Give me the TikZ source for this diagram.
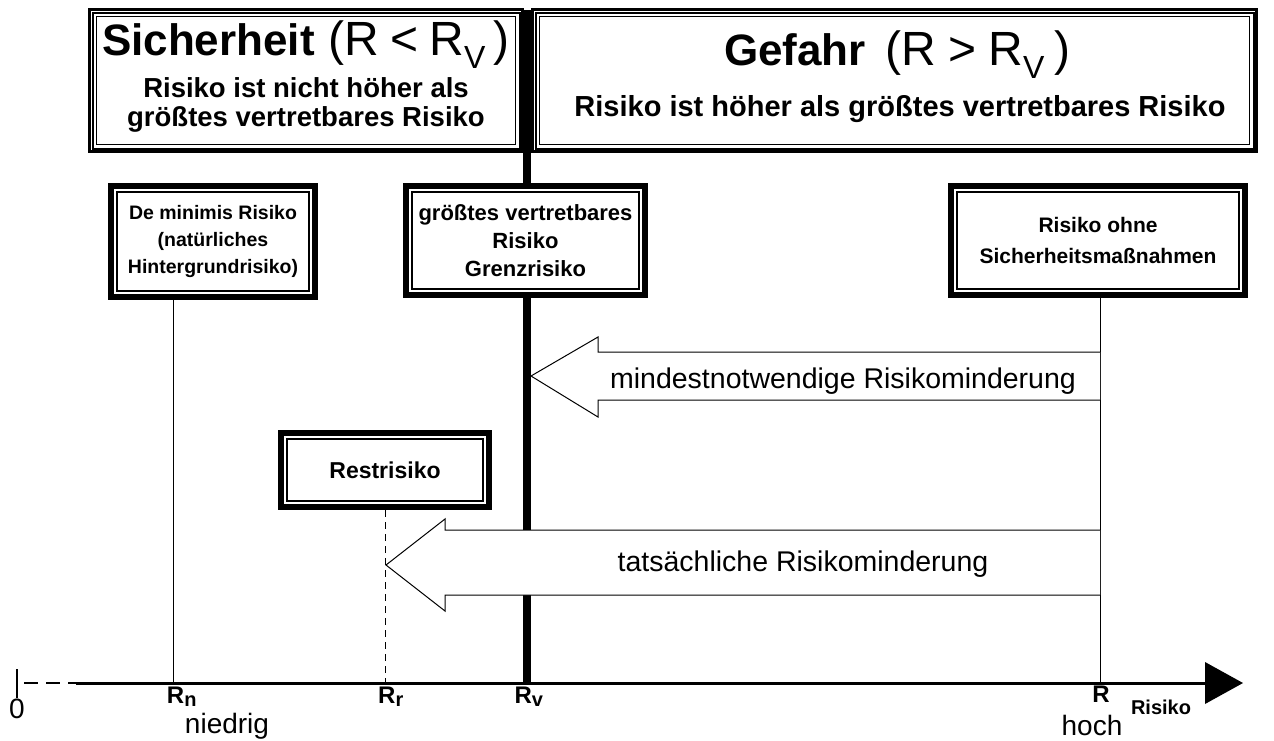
\documentclass[tikz,border=0pt]{standalone}
\usepackage{fontspec}
\setmainfont{Liberation Sans}
\begin{document}
\begin{tikzpicture}[x=1pt,y=-1pt,
  tbox/.style={draw, line width=3pt, fill=white, inner sep=0pt},
  tin1/.style={line width=2pt},
  tin2/.style={line width=1pt},
  lbox/.style={draw, line width=6pt, fill=white, inner sep=0pt, align=center,
    font=\bfseries\fontsize{21}{27}\selectfont},
  lin/.style={line width=1.3pt},
  vline/.style={line width=1pt},
  blockarrow/.style={line width=1pt, fill=white, line join=miter},
  axlbl/.style={font=\bfseries\fontsize{24}{24}\selectfont, anchor=base},
  plain/.style={font=\fontsize{28}{28}\selectfont, anchor=base},
  arrtxt/.style={font=\fontsize{28.5}{28.5}\selectfont, anchor=base}]
\useasboundingbox (0,0) rectangle (1274,740);
\fill[white] (0,0) rectangle (1274,740);

% ---------- top boxes
\node[tbox, minimum width=433pt, minimum height=142pt] (sic) at (306,80.5) {};
\draw[tin1] ([shift={(4.5,4.5)}]sic.north west) rectangle ([shift={(-4.5,-4.5)}]sic.south east);
\draw[tin2] ([shift={(8.5,8.5)}]sic.north west) rectangle ([shift={(-8.5,-8.5)}]sic.south east);
\node[tbox, minimum width=724pt, minimum height=142pt] (gef) at (894.5,80.5) {};
\draw[tin1] ([shift={(4.5,4.5)}]gef.north west) rectangle ([shift={(-4.5,-4.5)}]gef.south east);
\draw[tin2] ([shift={(8.5,8.5)}]gef.north west) rectangle ([shift={(-8.5,-8.5)}]gef.south east);

\node[anchor=base, inner sep=0pt] (sict) at (306,55)
  {{\bfseries\fontsize{44}{44}\selectfont Sicherheit}\hspace{14pt}{\fontsize{48}{48}\selectfont(R\hspace{11pt}<\hspace{11pt}R\textsubscript{\fontsize{32}{32}\selectfont V}\hspace{8pt})}};
\node[anchor=base, align=center, font=\bfseries\fontsize{27.5}{29}\selectfont] (sics) at (306,126)
  {Risiko ist nicht höher als\\größtes vertretbares Risiko};
\node[anchor=base, inner sep=0pt] (geft) at (897,65)
  {{\bfseries\fontsize{44}{44}\selectfont Gefahr}\hspace{20pt}{\fontsize{48}{48}\selectfont(R\hspace{12pt}>\hspace{12pt}R\textsubscript{\fontsize{32}{32}\selectfont V}\hspace{9pt})}};
\node[anchor=base, font=\bfseries\fontsize{29}{29}\selectfont] (gefs) at (900,116)
  {Risiko ist höher als größtes vertretbares Risiko};

% ---------- axis coordinates
\coordinate (zero) at (17,683);
\coordinate (ds) at (24,683);
\coordinate (ax0) at (76,683);
\coordinate (Rn) at (173,683);
\coordinate (Rr) at (385,683);
\coordinate (Rv) at (527,683);
\coordinate (R) at (1100,683);
\coordinate (axe) at (1207,683);
\coordinate (tip) at (1243,683);
\coordinate (vtop) at (527,10);

% ---------- lower boxes
\node[lbox, minimum width=204pt, minimum height=111pt, font=\bfseries\fontsize{19.5}{27}\selectfont] (dm) at (213,241.5)
  {De minimis Risiko\\(natürliches\\Hintergrundrisiko)};
\draw[lin] ([shift={(9,9)}]dm.north west) rectangle ([shift={(-9,-9)}]dm.south east);

\draw[line width=8pt] (vtop) -- (Rv);

\node[lbox, minimum width=239pt, minimum height=109pt, font=\bfseries\fontsize{22}{28}\selectfont] (gv) at (525.5,240.5)
  {größtes vertretbares\\Risiko\\Grenzrisiko};
\draw[lin] ([shift={(9,9)}]gv.north west) rectangle ([shift={(-9,-9)}]gv.south east);

\node[lbox, minimum width=294pt, minimum height=109pt, font=\bfseries\fontsize{21}{31}\selectfont] (ro) at (1098,240.5)
  {Risiko ohne\\Sicherheitsmaßnahmen};
\draw[lin] ([shift={(9,9)}]ro.north west) rectangle ([shift={(-9,-9)}]ro.south east);

\node[lbox, minimum width=208pt, minimum height=74pt, font=\bfseries\fontsize{23}{23}\selectfont] (rr) at (385,470) {Restrisiko};
\draw[lin] ([shift={(9,9)}]rr.north west) rectangle ([shift={(-9,-9)}]rr.south east);

% ---------- vertical lines
\draw[vline] (Rn |- dm.south) -- (Rn);
\draw[vline] (R |- ro.south) -- (R);
\draw[vline, dash pattern=on 7pt off 5pt] (Rr |- rr.south) -- (Rr);

% ---------- block arrows
\draw[blockarrow] (1100,352) -- (598,352) -- (598,337) -- (531,376) -- (598,417) -- (598,400) -- (1100,400);
\node[arrtxt] (mn) at (843,388) {mindestnotwendige Risikominderung};
\draw[blockarrow] (1100,530) -- (445,530) -- (445,519) -- (386,565) -- (445,611) -- (445,595) -- (1100,595);
\node[arrtxt] (ta) at (803,571) {tatsächliche Risikominderung};

% ---------- axis
\draw[line width=2pt] (zero |- 0,669) -- (zero |- 0,698);
\draw[line width=2pt, dash pattern=on 14pt off 8pt] (ds) -- (ax0);
\draw[line width=3pt] (ax0) -- (axe);
\fill (1205,662) -- (tip) -- (1205,704) -- cycle;

\node[plain] (l0) at (17,718) {0};
\node[axlbl] (lRn) at (182,703) {R\textsubscript{\fontsize{20}{20}\selectfont n}};
\node[axlbl] (lRr) at (391,703) {R\textsubscript{\fontsize{20}{20}\selectfont r}};
\node[axlbl] (lRv) at (529,703) {R\textsubscript{\fontsize{20}{20}\selectfont v}};
\node[axlbl] (lR) at (1101,702) {R};
\node[axlbl, font=\bfseries\fontsize{20}{20}\selectfont] (lrisk) at (1161,714) {Risiko};
\node[plain] (nied) at (227,733) {niedrig};
\node[plain] (hoch) at (1092,735) {hoch};
\end{tikzpicture}
\end{document}
